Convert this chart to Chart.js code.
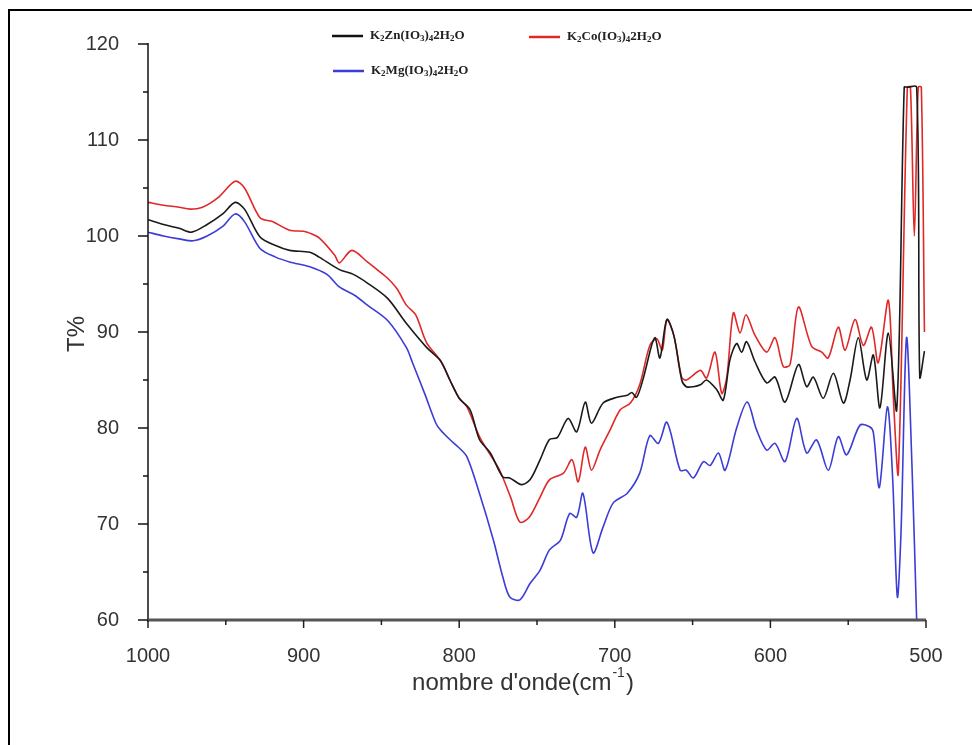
<!DOCTYPE html>
<html>
<head>
<meta charset="utf-8">
<script src="https://cdn.jsdelivr.net/npm/chart.js@4.4.0/dist/chart.umd.min.js"></script>
<style>
  html, body { margin: 0; padding: 0; background: #fff; }
  canvas { display: block; }
</style>
</head>
<body>
<canvas id="irChart" width="972" height="745"></canvas>
<script>
// IR spectra, wavenumber (cm-1) vs transmittance T%
const seriesLabels = ["K\u2082Zn(IO\u2083)\u20842H\u2082O", "K\u2082Co(IO\u2083)\u20842H\u2082O", "K\u2082Mg(IO\u2083)\u20842H\u2082O"];

const znWave = [1000, 990, 980, 972, 962, 952, 944, 938, 928, 918, 909, 896, 890, 877, 868, 859, 846, 834, 821, 812, 806, 800, 793, 787, 780, 772, 767.5, 760, 754.5, 748, 742, 737, 730, 724.5, 719, 715, 707.5, 698.5, 692, 689, 686, 682, 676, 674, 671, 666.5, 662, 657, 654, 649.5, 645, 641, 634.6, 630.3, 626, 621.7, 618.5, 615.3, 609.9, 602.4, 597, 590.6, 582, 576.7, 572.4, 566, 559.5, 553.1, 548.8, 543.5, 538.1, 533.8, 529.6, 524.2, 518.8, 514, 512, 506, 504, 501];
const znT    = [101.7, 101.2, 100.8, 100.4, 101.2, 102.3, 103.5, 102.8, 99.9, 99.0, 98.5, 98.3, 97.8, 96.5, 96.0, 95.1, 93.5, 90.9, 88.4, 87.0, 85.0, 83.1, 81.9, 78.8, 77.4, 74.9, 74.8, 74.1, 74.6, 76.7, 78.8, 79.0, 81.0, 79.6, 82.7, 80.5, 82.6, 83.2, 83.4, 83.7, 83.2, 85.0, 88.8, 89.4, 87.3, 91.3, 89.6, 85.0, 84.3, 84.3, 84.5, 85.0, 84.0, 82.9, 87.1, 88.8, 87.9, 89.0, 86.9, 84.7, 85.3, 82.7, 86.6, 84.3, 85.3, 83.1, 85.7, 82.6, 85.0, 89.4, 85.0, 87.6, 82.1, 89.9, 81.9, 115.5, 115.5, 115.5, 85.3, 88.0];

const coWave = [1000, 990, 980, 973, 965, 955, 944, 938, 928, 920, 909, 900, 896, 890, 880, 877, 869, 859, 852, 846, 840, 834, 828, 821, 812, 806, 800, 795, 787, 780, 774, 767, 761, 755, 748, 742, 733, 727.5, 723.5, 719, 715, 709.5, 703, 696.5, 690, 684, 677.5, 673, 669.5, 666.5, 662, 657, 654, 645, 641, 635.6, 631.3, 628, 623.8, 619.5, 615.7, 610, 602.4, 597, 591.7, 587.4, 582, 573.5, 567, 562.8, 556.4, 552, 545.6, 540.3, 535, 530.7, 524.2, 521, 517.8, 512, 510, 507.5, 505, 503, 501];
const coT    = [103.5, 103.2, 103.0, 102.8, 103.0, 104.0, 105.7, 105.0, 101.9, 101.5, 100.6, 100.5, 100.3, 99.8, 98.0, 97.2, 98.5, 97.3, 96.4, 95.6, 94.5, 92.8, 91.8, 88.9, 87.0, 85.0, 83.1, 82.2, 79.1, 77.2, 75.6, 72.8, 70.2, 70.7, 72.8, 74.6, 75.3, 76.7, 74.4, 78.0, 75.6, 77.7, 79.8, 81.9, 82.6, 84.5, 88.6, 89.3, 88.1, 91.3, 89.6, 85.3, 85.0, 86.0, 85.2, 87.9, 83.6, 85.3, 92.0, 89.9, 91.8, 89.7, 87.9, 89.4, 86.4, 86.6, 92.6, 88.5, 87.9, 87.3, 90.5, 88.1, 91.3, 88.6, 90.5, 86.8, 93.3, 83.2, 75.3, 115.5, 115.5, 100.0, 115.5, 115.5, 90.0];

const mgWave = [1000, 990, 980, 971, 962, 952, 944, 938, 928, 918, 909, 896, 885, 877, 867, 859, 846, 834, 830, 822, 815, 812, 806, 800.5, 795, 787, 778, 772, 767.5, 761, 754.5, 748, 742, 735, 729, 724.5, 720.5, 714, 707.5, 701, 692, 684, 677.5, 672, 666.5, 658, 654, 649.5, 643, 638.8, 633.4, 629.1, 621.7, 614.9, 608.9, 602.4, 597, 590.6, 583.1, 576.7, 570.3, 562.8, 556.4, 551, 542.4, 536, 533.8, 530, 524.8, 521.5, 518.4, 516, 512.5, 509, 506];
const mgT    = [100.4, 100.0, 99.7, 99.5, 100.0, 101.0, 102.3, 101.5, 98.7, 97.8, 97.3, 96.8, 96.0, 94.7, 93.8, 92.8, 91.2, 88.4, 86.8, 83.5, 80.5, 79.8, 78.8, 78.0, 77.0, 73.2, 68.3, 64.5, 62.4, 62.1, 63.8, 65.2, 67.3, 68.3, 71.1, 70.7, 73.2, 67.0, 69.7, 72.2, 73.2, 75.3, 79.2, 78.4, 80.6, 75.6, 75.6, 74.8, 76.5, 76.1, 77.4, 75.6, 80.0, 82.7, 79.8, 77.7, 78.4, 76.5, 81.0, 77.4, 78.75, 75.6, 79.1, 77.2, 80.3, 80.1, 79.5, 73.8, 82.2, 75.0, 62.4, 69.4, 89.4, 76.0, 60.0];

const xTicks = [1000, 900, 800, 700, 600, 500];
const yTicks = [60, 70, 80, 90, 100, 110, 120];

function toPoints(xs, ys) {
  return xs.map((x, i) => ({ x: x, y: ys[i] }));
}

// writes a formula, unicode subscript digits drawn small and lowered
function drawFormula(ctx, text, x, y) {
  const big = 'bold 13px "Liberation Serif", "Times New Roman", serif';
  const small = 'bold 9px "Liberation Serif", "Times New Roman", serif';
  for (const ch of text) {
    const code = ch.charCodeAt(0);
    if (code >= 0x2080 && code <= 0x2089) {
      ctx.font = small;
      const d = String.fromCharCode(code - 0x2080 + 48);
      ctx.fillText(d, x, y + 3);
      x += ctx.measureText(d).width;
    } else {
      ctx.font = big;
      ctx.fillText(ch, x, y);
      x += ctx.measureText(ch).width;
    }
  }
}

// axes, tick marks, titles, legend and outer frame
const decorPlugin = {
  id: "decor",
  afterDatasetsDraw(chart) {
    const ctx = chart.ctx;
    const area = chart.chartArea;
    const xs = chart.scales.x;
    const ys = chart.scales.y;
    ctx.save();
    // left axis
    ctx.strokeStyle = "#111";
    ctx.lineWidth = 1.5;
    ctx.beginPath();
    ctx.moveTo(area.left, area.top - 1);
    ctx.lineTo(area.left, area.bottom + 2);
    ctx.stroke();
    ys.ticks.forEach(t => {
      const y = ys.getPixelForValue(t.value);
      const len = yTicks.includes(t.value) ? 10 : 5;
      ctx.beginPath();
      ctx.moveTo(area.left - len, y);
      ctx.lineTo(area.left, y);
      ctx.stroke();
    });
    // bottom axis, grey and heavy
    ctx.strokeStyle = "#555";
    ctx.lineWidth = 3;
    ctx.beginPath();
    ctx.moveTo(area.left, area.bottom);
    ctx.lineTo(area.right, area.bottom);
    ctx.stroke();
    ctx.lineWidth = 1.5;
    ctx.strokeStyle = "#222";
    xs.ticks.forEach(t => {
      const x = xs.getPixelForValue(t.value);
      const len = xTicks.includes(t.value) ? 8 : 5;
      ctx.beginPath();
      ctx.moveTo(x, area.bottom);
      ctx.lineTo(x, area.bottom + len);
      ctx.stroke();
    });
    ctx.restore();
  },
  afterDraw(chart) {
    const ctx = chart.ctx;
    ctx.save();
    // outer frame (left and top edges visible)
    ctx.strokeStyle = "#000";
    ctx.lineWidth = 2;
    ctx.beginPath();
    ctx.moveTo(9, 745);
    ctx.lineTo(9, 10);
    ctx.lineTo(972, 10);
    ctx.stroke();

    // axis titles
    ctx.fillStyle = "#333";
    ctx.font = '24px "Liberation Sans", Arial, sans-serif';
    ctx.textBaseline = "middle";
    ctx.save();
    ctx.translate(77, 334);
    ctx.rotate(-Math.PI / 2);
    ctx.textAlign = "center";
    ctx.fillText("T%", 0, 0);
    ctx.restore();

    const main = "nombre d'onde(cm";
    const sup = "-1";
    const close = ")";
    ctx.font = '24px "Liberation Sans", Arial, sans-serif';
    const w1 = ctx.measureText(main).width;
    const w3 = ctx.measureText(close).width;
    ctx.font = '14px "Liberation Sans", Arial, sans-serif';
    const w2 = ctx.measureText(sup).width;
    let x0 = 522 - (w1 + w2 + w3) / 2;
    const ty = 683;
    ctx.textAlign = "left";
    ctx.font = '24px "Liberation Sans", Arial, sans-serif';
    ctx.fillText(main, x0, ty);
    ctx.font = '14px "Liberation Sans", Arial, sans-serif';
    ctx.fillText(sup, x0 + w1 + 1, ty - 10);
    ctx.font = '24px "Liberation Sans", Arial, sans-serif';
    ctx.fillText(close, x0 + w1 + w2 + 2, ty);

    // legend
    const legendItems = [
      { x: 332, y: 36, color: "#111" },
      { x: 529, y: 37, color: "#e02828" },
      { x: 333, y: 71, color: "#3c3cd6" }
    ];
    ctx.textBaseline = "middle";
    chart.data.datasets.forEach((ds, i) => {
      const it = legendItems[i];
      ctx.strokeStyle = it.color;
      ctx.lineWidth = 2.5;
      ctx.beginPath();
      ctx.moveTo(it.x, it.y);
      ctx.lineTo(it.x + 31, it.y);
      ctx.stroke();
      ctx.fillStyle = "#222";
      drawFormula(ctx, ds.label, it.x + 38, it.y);
    });
    ctx.restore();
  }
};

const ctx = document.getElementById("irChart").getContext("2d");

new Chart(ctx, {
  type: "line",
  data: {
    datasets: [
      {
        label: seriesLabels[0],
        data: toPoints(znWave, znT),
        borderColor: "#1a1a1a",
        borderWidth: 1.6,
        pointRadius: 0,
        tension: 0.3,
        fill: false
      },
      {
        label: seriesLabels[1],
        data: toPoints(coWave, coT),
        borderColor: "#e02828",
        borderWidth: 1.6,
        pointRadius: 0,
        tension: 0.3,
        fill: false
      },
      {
        label: seriesLabels[2],
        data: toPoints(mgWave, mgT),
        borderColor: "#3c3cd6",
        borderWidth: 1.6,
        pointRadius: 0,
        tension: 0.3,
        fill: false
      }
    ]
  },
  options: {
    responsive: false,
    animation: false,
    layout: { padding: { left: 0, top: 44, right: 46, bottom: 0 } },
    plugins: {
      legend: { display: false },
      tooltip: { enabled: false }
    },
    scales: {
      x: {
        type: "linear",
        reverse: true,
        min: 500,
        max: 1000,
        grid: { display: false },
        border: { display: false },
        afterFit: (scale) => { scale.height = 125; },
        ticks: {
          stepSize: 50,
          autoSkip: false,
          maxRotation: 0,
          padding: 16,
          color: "#333",
          font: { family: '"Liberation Sans", Arial, sans-serif', size: 20 },
          callback: (v) => (xTicks.includes(v) ? String(v) : "")
        }
      },
      y: {
        min: 60,
        max: 120,
        grid: { display: false },
        border: { display: false },
        afterFit: (scale) => { scale.width = 148; },
        ticks: {
          stepSize: 5,
          autoSkip: false,
          padding: 21,
          color: "#333",
          font: { family: '"Liberation Sans", Arial, sans-serif', size: 20 },
          callback: (v) => (yTicks.includes(v) ? String(v) : "")
        }
      }
    }
  },
  plugins: [decorPlugin]
});
</script>
</body>
</html>
